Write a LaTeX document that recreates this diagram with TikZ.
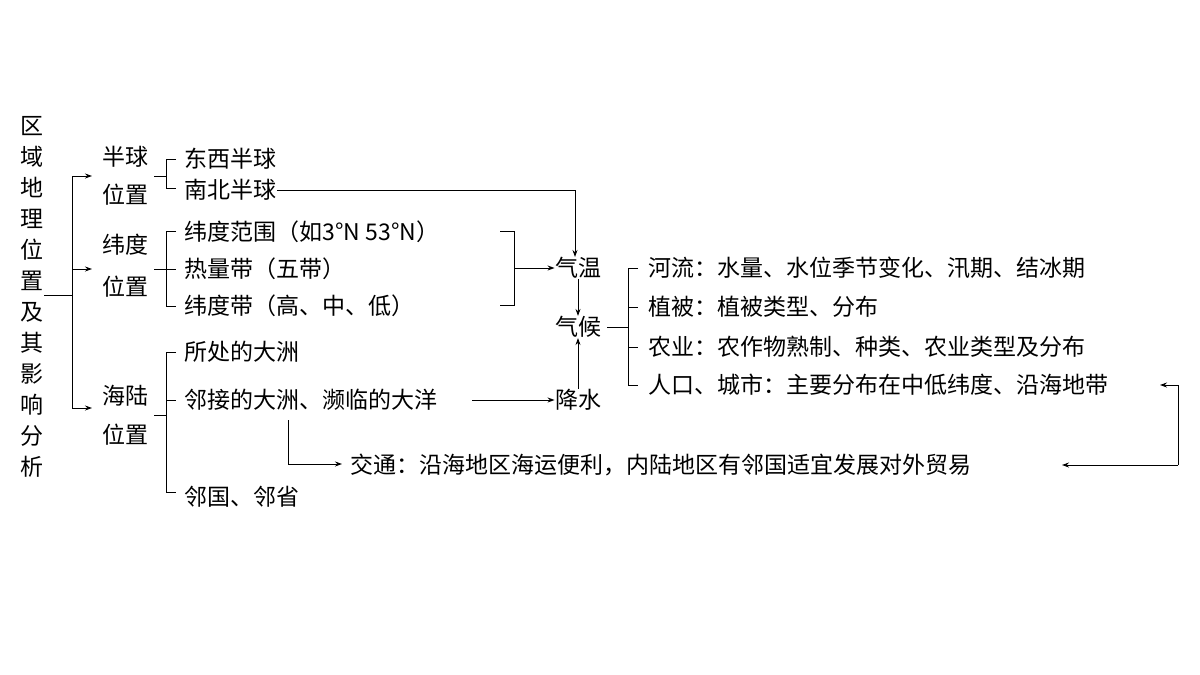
\documentclass[tikz,border=0pt]{standalone}
\usepackage{fontspec}
\setmainfont{Noto Sans CJK SC}
\usetikzlibrary{arrows.meta}

\tikzset{
  txt/.style={inner sep=0pt, anchor=west},
  lbl/.style={inner sep=0pt},
  arr/.style={-{Stealth[length=7pt,width=5pt]}},
}

\begin{document}
\begin{tikzpicture}[x=1pt,y=-1pt,line width=0.9pt,font=\fontsize{23}{24}\selectfont]
                \useasboundingbox (0,0) rectangle (1200,675);

                % title
                \node[lbl, text width=24pt, align=center, font=\fontsize{23}{31}\selectfont] (title) at (32,297)
                  {区\\域\\地\\理\\位\\置\\及\\其\\影\\响\\分\\析};

                % level one
                \node[lbl] (hq) at (125,157) {半球};
                \node[lbl] (hqw) at (125,195) {位置};
                \node[lbl] (wd) at (125,245) {纬度};
                \node[lbl] (wdw) at (125,287) {位置};
                \node[lbl] (hl) at (125,396) {海陆};
                \node[lbl] (hlw) at (125,435) {位置};
                \coordinate (c1) at (92,176);
                \coordinate (c2) at (92,269);
                \coordinate (c3) at (92,408);
                \draw (title.east |- 0,295) -- (72,295);
                \draw (72,176) -- (72,408);
                \foreach \c in {c1,c2,c3} \draw[arr] (72,0 |- \c) -- (\c);

                % level two
                \node[txt] (dx) at (184,159) {东西半球};
                \node[txt] (nb) at (184,190) {南北半球};
                \node[txt] (fw) at (184,232) {纬度范围（如3°N~53°N）};
                \node[txt] (rl) at (184,269) {热量带（五带）};
                \node[txt] (wdd) at (184,306) {纬度带（高、中、低）};
                \node[txt] (sc) at (184,352) {所处的大洲};
                \node[txt] (lj) at (184,400) {邻接的大洲、濒临的大洋};
                \node[txt] (lg) at (184,497) {邻国、邻省};

                \draw (154,176) -- (166,176);
                \draw (176,159) -- (166,159) -- (166,188) -- (176,188);
                \draw (154,269) -- (176,269);
                \draw (176,231) -- (166,231) -- (166,306) -- (176,306);
                \draw (154,415) -- (166,415);
                \draw (176,352) -- (166,352) -- (166,492) -- (176,492);
                \draw (166,400) -- (176,400);

                % climate
                \node[lbl] (qw) at (578,268) {气温};
                \node[lbl] (qh) at (578,327) {气候};
                \node[lbl] (js) at (578,400) {降水};
                \draw (500,231) -- (514,231) -- (514,305) -- (500,305);
                \draw[arr] (514,268) -- (qw.west);
                \draw[arr] (nb.east) -- (575,190) -- (575,0 |- qw.north);
                \draw[arr] (qw.south) -- (qh.north);
                \draw[arr] (js.north) -- (qh.south);
                \draw[arr] (472,400) -- (js.west);

                % effects
                \node[txt] (hel) at (648,268) {河流：水量、水位季节变化、汛期、结冰期};
                \node[txt] (zb) at (648,307) {植被：植被类型、分布};
                \node[txt] (ny) at (648,347) {农业：农作物熟制、种类、农业类型及分布};
                \node[txt] (rk) at (648,385) {人口、城市：主要分布在中低纬度、沿海地带};
                \draw (qh.east) ++(6,0) -- (628,327);
                \draw (638,268) -- (628,268) -- (628,385) -- (638,385);
                \foreach \y in {307,347} \draw (628,\y) -- (638,\y);

                % transport
                \node[txt] (jt) at (350,465) {交通：沿海地区海运便利，内陆地区有邻国适宜发展对外贸易};
                \draw[arr] (288,420) -- (288,464) -- (342,464);
                \draw[arr] (1178,465) -- (1062,465);
                \draw[arr] (1178,465) -- (1178,385) -- (1160,385);
            \end{tikzpicture}
\end{document}
